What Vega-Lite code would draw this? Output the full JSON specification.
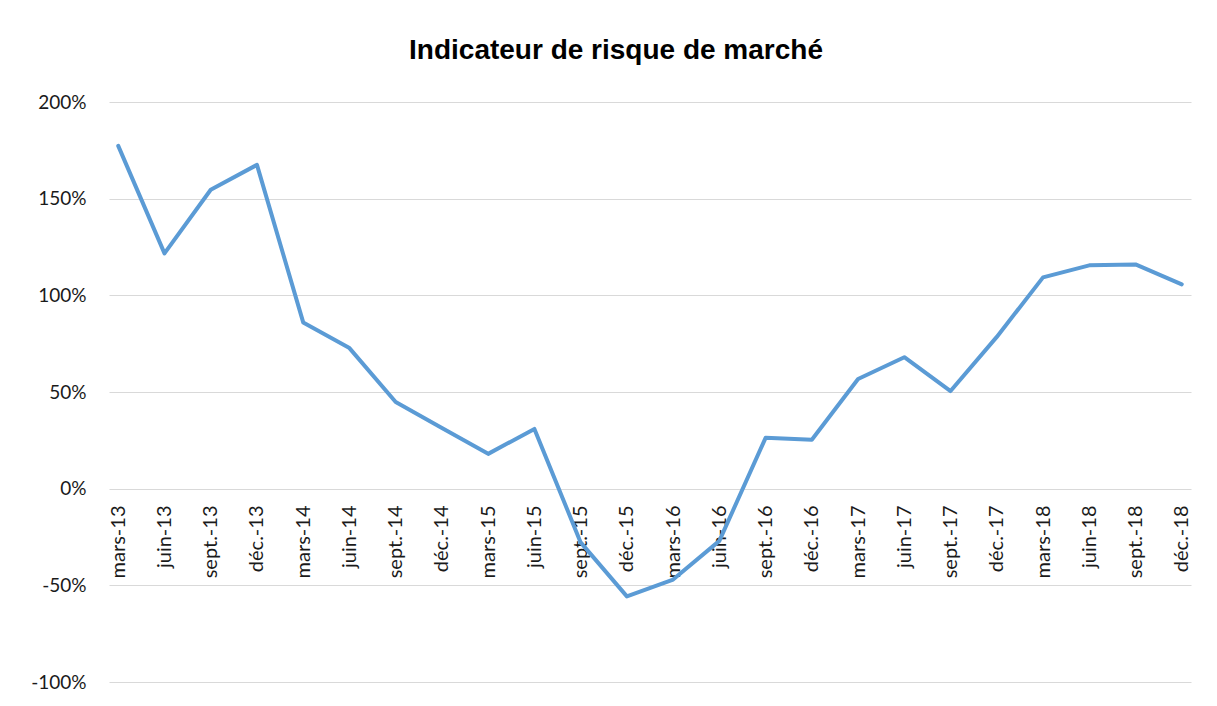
{
  "$schema": "https://vega.github.io/schema/vega-lite/v6.json",
  "width": 1082,
  "height": 580,
  "autosize": {"type": "none"},
  "padding": {"left": 109, "top": 102, "right": 26, "bottom": 24},
  "background": "white",
  "title": {
    "text": "Indicateur de risque de marché",
    "font": "Liberation Sans",
    "fontSize": 28,
    "fontWeight": "bold",
    "color": "#000000",
    "anchor": "middle",
    "dx": -34,
    "offset": 28
  },
  "config": {
    "locale": {
      "number": {"decimal": ".", "thousands": ",", "grouping": [3], "currency": ["", ""], "minus": "-"}
    },
    "view": {"stroke": null},
    "axis": {
      "labelFont": "Lato",
      "labelFontSize": 19,
      "labelColor": "#1a1a1a",
      "gridColor": "#D9D9D9",
      "gridWidth": 1.2,
      "domain": false,
      "ticks": false,
      "title": null
    }
  },
  "data": {
    "values": [
      {"periode": "mars-13", "valeur": 1.773},
      {"periode": "juin-13", "valeur": 1.217},
      {"periode": "sept.-13", "valeur": 1.546},
      {"periode": "déc.-13", "valeur": 1.675},
      {"periode": "mars-14", "valeur": 0.86},
      {"periode": "juin-14", "valeur": 0.727},
      {"periode": "sept.-14", "valeur": 0.448},
      {"periode": "déc.-14", "valeur": 0.314},
      {"periode": "mars-15", "valeur": 0.18},
      {"periode": "juin-15", "valeur": 0.309},
      {"periode": "sept.-15", "valeur": -0.278},
      {"periode": "déc.-15", "valeur": -0.557},
      {"periode": "mars-16", "valeur": -0.47},
      {"periode": "juin-16", "valeur": -0.27},
      {"periode": "sept.-16", "valeur": 0.263},
      {"periode": "déc.-16", "valeur": 0.253},
      {"periode": "mars-17", "valeur": 0.567},
      {"periode": "juin-17", "valeur": 0.68},
      {"periode": "sept.-17", "valeur": 0.505},
      {"periode": "déc.-17", "valeur": 0.785},
      {"periode": "mars-18", "valeur": 1.093},
      {"periode": "juin-18", "valeur": 1.155},
      {"periode": "sept.-18", "valeur": 1.16},
      {"periode": "déc.-18", "valeur": 1.057}
    ]
  },
  "mark": {"type": "line", "color": "#5B9BD5", "strokeWidth": 4, "strokeCap": "round", "strokeJoin": "round"},
  "encoding": {
    "x": {
      "field": "periode",
      "type": "ordinal",
      "sort": null,
      "scale": {"type": "point", "padding": 0.2},
      "axis": {
        "orient": "bottom",
        "offset": -193,
        "labelAngle": -90,
        "labelPadding": 16,
        "labelFontSize": 20,
        "labelOverlap": false,
        "grid": false
      }
    },
    "y": {
      "field": "valeur",
      "type": "quantitative",
      "scale": {"domain": [-1, 2], "nice": false, "zero": false},
      "axis": {
        "values": [-1, -0.5, 0, 0.5, 1, 1.5, 2],
        "format": ".0%",
        "labelPadding": 23,
        "grid": true
      }
    }
  }
}
